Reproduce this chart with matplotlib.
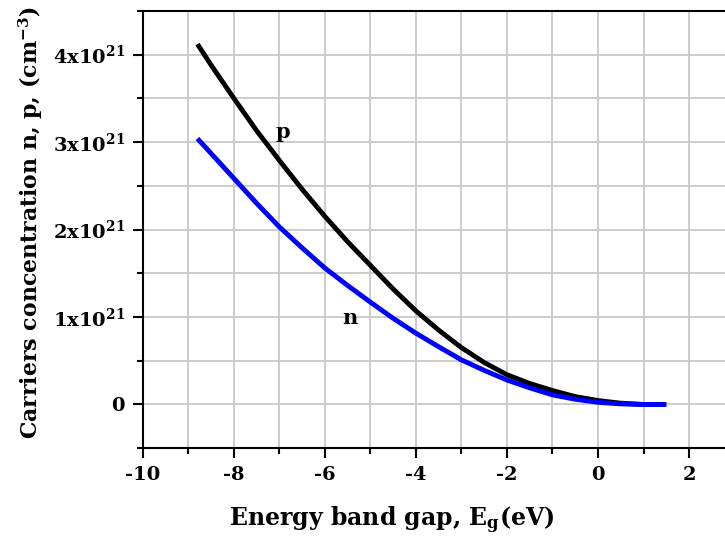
import numpy as np
import matplotlib.pyplot as plt
from matplotlib.ticker import MultipleLocator, FuncFormatter

plt.rcParams['font.family'] = 'DejaVu Serif'
plt.rcParams['font.weight'] = 'bold'
plt.rcParams['mathtext.fontset'] = 'dejavuserif'
plt.rcParams['mathtext.default'] = 'bf'

# energy band gap (eV) and carrier concentrations (x1e21 cm^-3)
eg = [-8.8, -8.5, -8, -7.5, -7, -6.5, -6, -5.5, -5, -4.5, -4, -3.5,
      -3, -2.5, -2, -1.5, -1, -0.5, 0, 0.5, 1, 1.5]
p_conc = [4.12, 3.88, 3.50, 3.13, 2.79, 2.46, 2.15, 1.86, 1.59, 1.32, 1.07, 0.85,
          0.65, 0.48, 0.34, 0.24, 0.16, 0.09, 0.045, 0.015, 0.0, 0.0]
n_conc = [3.04, 2.87, 2.585, 2.30, 2.03, 1.79, 1.56, 1.36, 1.17, 0.985, 0.815, 0.66,
          0.51, 0.39, 0.28, 0.19, 0.11, 0.06, 0.025, 0.007, 0.0, 0.0]

eg = np.array(eg)
p_conc = np.array(p_conc) * 1e21
n_conc = np.array(n_conc) * 1e21

fig = plt.figure(figsize=(7.25, 5.42), dpi=100)
ax = fig.add_axes([0.197, 0.173, 0.803, 0.807])

ax.plot(eg, p_conc, color='black', linewidth=3.5, solid_capstyle='butt', zorder=3)
ax.plot(eg, n_conc, color='#0000ff', linewidth=3.5, solid_capstyle='butt', zorder=4)

ax.text(-6.93, 3.11e21, 'p', fontsize=15, fontweight='bold', ha='center', va='center')
ax.text(-5.46, 0.99e21, 'n', fontsize=15, fontweight='bold', ha='center', va='center')

ax.set_xlim(-10, 2.79)
ax.set_ylim(-0.5e21, 4.5e21)
ax.xaxis.set_major_locator(MultipleLocator(2))
ax.xaxis.set_minor_locator(MultipleLocator(1))
ax.yaxis.set_major_locator(MultipleLocator(1e21))
ax.yaxis.set_minor_locator(MultipleLocator(0.5e21))

def fmt_y(v, pos):
    k = int(round(v / 1e21))
    if k == 0:
        return '0'
    return '%dx10$^{21}$' % k

ax.yaxis.set_major_formatter(FuncFormatter(fmt_y))
ax.xaxis.set_major_formatter(FuncFormatter(lambda v, pos: '%d' % v))

ax.grid(True, which='both', color='#c8c8c8', linewidth=1.3)
ax.set_axisbelow(True)
ax.tick_params(which='major', direction='out', length=7, width=1.5, labelsize=14, pad=6)
ax.tick_params(which='minor', direction='out', length=4, width=1.5)
for s in ['left', 'bottom', 'top']:
    ax.spines[s].set_linewidth(1.5)
ax.spines['right'].set_visible(False)

ax.set_xlabel('Energy band gap, E$_\\mathbf{g}$(eV)', fontsize=17, fontweight='bold')
ax.xaxis.set_label_coords(0.428, -0.13)
ax.set_ylabel('Carriers concentration n, p, (cm$^{\\mathbf{-3}}$)', fontsize=15.8, fontweight='bold')
ax.yaxis.set_label_coords(-0.168, 0.517)

fig.savefig('out.png', dpi=100)
